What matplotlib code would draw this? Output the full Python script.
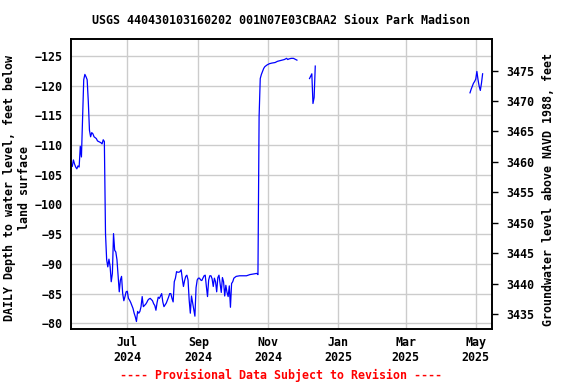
import matplotlib
matplotlib.use("Agg")
import matplotlib.pyplot as plt
import matplotlib.dates as mdates
import numpy as np
import pandas as pd

# daily depth to water (feet below land surface); nan = gap
dates = [
    "2024-05-13", "2024-05-14", "2024-05-15", "2024-05-16", "2024-05-17", "2024-05-18",
    "2024-05-19", "2024-05-20", "2024-05-21", "2024-05-22", "2024-05-23", "2024-05-24",
    "2024-05-25", "2024-05-26", "2024-05-27", "2024-05-28", "2024-05-29", "2024-05-30",
    "2024-05-31", "2024-06-01", "2024-06-02", "2024-06-04", "2024-06-05", "2024-06-08",
    "2024-06-09", "2024-06-10", "2024-06-11", "2024-06-12", "2024-06-13", "2024-06-14",
    "2024-06-15", "2024-06-16", "2024-06-17", "2024-06-18", "2024-06-19", "2024-06-20",
    "2024-06-21", "2024-06-22", "2024-06-23", "2024-06-24", "2024-06-25", "2024-06-26",
    "2024-06-27", "2024-06-28", "2024-06-29", "2024-06-30", "2024-07-01", "2024-07-02",
    "2024-07-03", "2024-07-04", "2024-07-05", "2024-07-06", "2024-07-07", "2024-07-08",
    "2024-07-09", "2024-07-10", "2024-07-11", "2024-07-12", "2024-07-13", "2024-07-14",
    "2024-07-15", "2024-07-17", "2024-07-18", "2024-07-19", "2024-07-20", "2024-07-21",
    "2024-07-22", "2024-07-23", "2024-07-24", "2024-07-25", "2024-07-26", "2024-07-27",
    "2024-07-28", "2024-07-29", "2024-07-30", "2024-07-31", "2024-08-01", "2024-08-02",
    "2024-08-03", "2024-08-04", "2024-08-05", "2024-08-06", "2024-08-07", "2024-08-08",
    "2024-08-09", "2024-08-10", "2024-08-11", "2024-08-12", "2024-08-13", "2024-08-14",
    "2024-08-15", "2024-08-16", "2024-08-17", "2024-08-18", "2024-08-19", "2024-08-20",
    "2024-08-21", "2024-08-22", "2024-08-23", "2024-08-24", "2024-08-25", "2024-08-26",
    "2024-08-27", "2024-08-28", "2024-08-29", "2024-08-30", "2024-08-31", "2024-09-01",
    "2024-09-02", "2024-09-03", "2024-09-04", "2024-09-05", "2024-09-06", "2024-09-07",
    "2024-09-08", "2024-09-09", "2024-09-10", "2024-09-11", "2024-09-12", "2024-09-13",
    "2024-09-14", "2024-09-15", "2024-09-16", "2024-09-17", "2024-09-18", "2024-09-19",
    "2024-09-20", "2024-09-21", "2024-09-22", "2024-09-23", "2024-09-24", "2024-09-25",
    "2024-09-26", "2024-09-27", "2024-09-28", "2024-09-29", "2024-09-30", "2024-10-01",
    "2024-10-02", "2024-10-04", "2024-10-07", "2024-10-10", "2024-10-13", "2024-10-16",
    "2024-10-19", "2024-10-22", "2024-10-23", "2024-10-24", "2024-10-25", "2024-10-26",
    "2024-10-27", "2024-10-28", "2024-10-29", "2024-10-31", "2024-11-02", "2024-11-04",
    "2024-11-07", "2024-11-09", "2024-11-11", "2024-11-13", "2024-11-15", "2024-11-17",
    "2024-11-18", "2024-11-19", "2024-11-21", "2024-11-23", "2024-11-24", "2024-11-26",
    "2024-11-27",
    "2024-12-07", "2024-12-08", "2024-12-09", "2024-12-10", "2024-12-11", "2024-12-12",
    "2024-12-13",
    "2025-04-26", "2025-04-27", "2025-04-28", "2025-04-29", "2025-04-30", "2025-05-01",
    "2025-05-02", "2025-05-03", "2025-05-04", "2025-05-05", "2025-05-06", "2025-05-07",
]
depth = [
    -106.5, -106.4, -107.5, -106.8, -106.3, -106.0,
    -106.5, -106.3, -109.8, -108.0, -114.2, -121.0,
    -121.9, -121.5, -121.0, -117.3, -112.5, -111.4,
    -112.1, -111.9, -111.4, -111.1, -110.7, -110.4,
    -110.2, -110.9, -110.6, -95.1, -90.7, -89.5,
    -90.8, -89.6, -87.0, -88.4, -95.1, -92.3,
    -92.0, -90.7, -87.9, -85.3, -87.3, -87.9,
    -85.0, -83.8, -84.5, -85.3, -85.4, -84.2,
    -83.9, -83.5, -83.0, -82.5, -81.7, -81.1,
    -80.3, -82.0, -81.7, -82.0, -82.8, -84.5,
    -82.8, -83.2, -83.5, -83.9, -84.1, -84.2,
    -84.0, -83.8, -83.3, -83.0, -82.2, -83.5,
    -84.4, -84.2, -84.6, -85.0, -83.6, -82.8,
    -83.1, -83.4, -83.9, -84.4, -85.0, -85.0,
    -84.2, -83.6, -87.0, -87.6, -88.7, -88.6,
    -88.6, -88.7, -89.0, -87.5, -86.2, -87.2,
    -87.9, -88.1, -87.3, -83.9, -81.7, -84.6,
    -83.5, -82.5, -81.2, -86.0, -87.3, -87.6,
    -87.6, -87.3, -87.2, -87.6, -88.0, -88.1,
    -86.2, -84.5, -87.3, -88.0, -88.0, -87.5,
    -86.2, -87.6, -87.0, -85.3, -87.7, -88.1,
    -86.7, -85.2, -87.7, -87.0, -84.6, -86.4,
    -85.2, -84.5, -86.3, -82.7, -86.7, -87.0,
    -87.6, -87.9, -88.0, -88.0, -88.0, -88.2,
    -88.3, -88.4, -88.2, -114.8, -121.2, -121.9,
    -122.4, -122.9, -123.2, -123.5, -123.7, -123.8,
    -123.9, -124.1, -124.2, -124.3, -124.4, -124.6,
    -124.4, -124.5, -124.6, -124.6, -124.5, -124.3,
    np.nan,
    -121.2, -121.6, -122.0, -117.0, -118.0, -123.3,
    np.nan,
    -118.8, -119.4, -119.9, -120.4, -120.7, -121.1,
    -122.4, -121.0, -119.9, -119.2, -120.4, -122.0,
]

left_ticks = [-125, -120, -115, -110, -105, -100, -95, -90, -85, -80]
right_ticks = [3435, 3440, 3445, 3450, 3455, 3460, 3465, 3470, 3475]

title = "USGS 440430103160202 001N07E03CBAA2 Sioux Park Madison"
left_label = "DAILY Depth to water level, feet below\nland surface"
right_label = "Groundwater level above NAVD 1988, feet"
note = "---- Provisional Data Subject to Revision ----"

plt.rcParams["font.family"] = "DejaVu Sans Mono"
plt.rcParams["font.weight"] = "bold"
plt.rcParams["font.size"] = 8.4

x = pd.to_datetime(dates)

fig = plt.figure(figsize=(5.76, 3.84), dpi=100)
ax = fig.add_axes([0.1233, 0.1432, 0.7309, 0.7545])
ax.plot(x, depth, color="blue", linewidth=0.9)

ax.set_xlim(pd.Timestamp("2024-05-12 22:00"), pd.Timestamp("2025-05-15 05:00"))
ax.set_ylim(-79.04, -127.81)
ax.set_yticks(left_ticks)
ax.xaxis.set_major_locator(mdates.MonthLocator(bymonth=[1, 3, 5, 7, 9, 11]))
ax.xaxis.set_major_formatter(mdates.DateFormatter("%b\n%Y"))
ax.grid(True, color="#cccccc", linewidth=1)
ax.set_axisbelow(True)
ax.tick_params(axis="both", length=0, pad=6)
ax.tick_params(axis="x", pad=5)
for s in ax.spines.values():
    s.set_linewidth(1.2)

ax2 = ax.twinx()
ax2.set_ylim(3432.53, 3480.16)
ax2.set_yticks(right_ticks)
ax2.tick_params(axis="y", direction="out", length=4.5, width=1, pad=6)
for s in ax2.spines.values():
    s.set_linewidth(1.2)

fig.text(281.5 / 576, 1 - 20 / 384, title, ha="center", va="center")
fig.text(17 / 576, 1 - 188 / 384, left_label, ha="center", va="center",
         rotation=90, linespacing=1.2)
fig.text(548 / 576, 1 - 189 / 384, right_label, ha="center", va="center",
         rotation=90)
fig.text(281.5 / 576, 1 - 375 / 384, note, ha="center", va="center", color="red")

fig.savefig("out.png", dpi=100)
